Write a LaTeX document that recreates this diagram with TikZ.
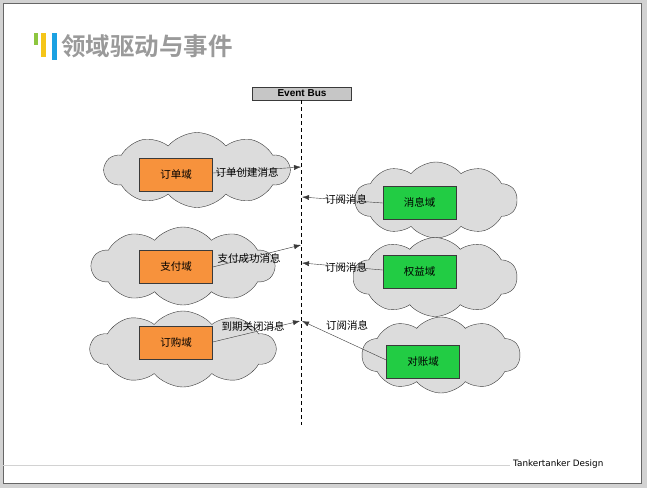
\documentclass[tikz,border=0pt]{standalone}
\usepackage{fontspec}
\setmainfont{Liberation Sans}
\newfontfamily\cjk{Noto Sans CJK SC}
\newfontfamily\cjkbold{Noto Sans CJK SC Bold}
\newfontfamily\footfont{DejaVu Sans}
\usetikzlibrary{shapes.symbols,arrows.meta}
\definecolor{cloudgray}{HTML}{DCDCDC}
\definecolor{linegray}{HTML}{3A3A3A}
\definecolor{domorange}{HTML}{F7923C}
\definecolor{domgreen}{HTML}{22CC44}
\definecolor{titlegray}{HTML}{9A9A9A}
\definecolor{barblue}{HTML}{1BA1E2}
\definecolor{baryellow}{HTML}{F5C518}
\definecolor{bargreen}{HTML}{8DC63F}
\begin{document}
\begin{tikzpicture}[x=1pt,y=-1pt,
    domaincloud/.style={cloud, cloud puffs=10, cloud puff arc=100, cloud ignores aspect,
      draw=linegray, fill=cloudgray, inner sep=0pt},
    domainbox/.style={draw=linegray, minimum width=73pt, minimum height=33pt, inner sep=0pt,
      font=\cjk\fontsize{10.5}{12}\selectfont},
    msg/.style={font=\cjk\fontsize{10.5}{12}\selectfont, inner sep=0pt},
    pub/.style={draw=linegray, -{Latex[length=7pt,width=5pt]}}]
  % page
  \fill[gray!35] (0,0) rectangle (647,488);
  \useasboundingbox (0,0) rectangle (647,488);
  \filldraw[fill=white, draw=gray!80!black] (3,3) rectangle (641,483);
  \draw[gray!35] (3,465) -- (510,465);
  \node[anchor=west, inner sep=0pt, font=\footfont\fontsize{8.8}{10}\selectfont] (footer) at (513,464) {Tankertanker Design};
  % title
  \fill[bargreen] (34,33) rectangle (38,45);
  \fill[baryellow] (41,33) rectangle (46,57);
  \fill[barblue] (52,33) rectangle (57,60);
  \node[anchor=west, inner sep=0pt, text=titlegray, font=\cjkbold\fontsize{24.5}{28}\selectfont] (title) at (61,46) {领域驱动与事件};
  % event bus
  \node[draw=linegray, fill=gray!45, minimum width=99pt, minimum height=13pt, inner sep=0pt,
    font=\bfseries\fontsize{10}{11}\selectfont] (bus) at (302,93.5) {Event Bus};
  \coordinate (busend) at (301,425);
  \draw[dash pattern=on 4pt off 3pt] (bus.south -| busend) -- (busend);
  % clouds
  \node[domaincloud, minimum width=185pt, minimum height=75pt] (cloudorder) at (197,170) {};
  \node[domaincloud, minimum width=183pt, minimum height=78pt] (cloudpay) at (183,266) {};
  \node[domaincloud, minimum width=185pt, minimum height=76pt] (cloudsub) at (183,349) {};
  \node[domaincloud, minimum width=162pt, minimum height=76pt] (cloudmsg) at (436,200) {};
  \node[domaincloud, minimum width=164pt, minimum height=79pt] (cloudright) at (435,277) {};
  \node[domaincloud, minimum width=158pt, minimum height=76pt] (cloudbill) at (441,355) {};
  % domains
  \node[domainbox, fill=domorange] (order) at (176,174.5) {订单域};
  \node[domainbox, fill=domorange] (pay) at (176,267) {支付域};
  \node[domainbox, fill=domorange] (sub) at (176,343) {订购域};
  \node[domainbox, fill=domgreen] (msgdom) at (419.5,202.5) {消息域};
  \node[domainbox, fill=domgreen] (rights) at (419.5,272) {权益域};
  \node[domainbox, fill=domgreen] (bill) at (423,362) {对账域};
  % points on the bus
  \coordinate (in1) at (301,167);
  \coordinate (in2) at (301,245);
  \coordinate (in3) at (300,321);
  \coordinate (out1) at (302,197);
  \coordinate (out2) at (302,263);
  \coordinate (out3) at (302,321);
  % messages
  \draw[pub] (order.east |- 0,173) -- (in1);
  \draw[pub] (pay.east |- 0,267) -- (in2);
  \draw[pub] (sub.east |- 0,342) -- (in3);
  \draw[pub] (msgdom.west |- 0,203) -- (out1);
  \draw[pub] (rights.west |- 0,270) -- (out2);
  \draw[pub] (bill.west |- 0,360) -- (out3);
  \node[msg] (m1) at (247,172) {订单创建消息};
  \node[msg] (m2) at (249,258) {支付成功消息};
  \node[msg] (m3) at (253,326) {到期关闭消息};
  \node[msg] (s1) at (346,199) {订阅消息};
  \node[msg] (s2) at (346,267) {订阅消息};
  \node[msg] (s3) at (347,325) {订阅消息};
\end{tikzpicture}
\end{document}
